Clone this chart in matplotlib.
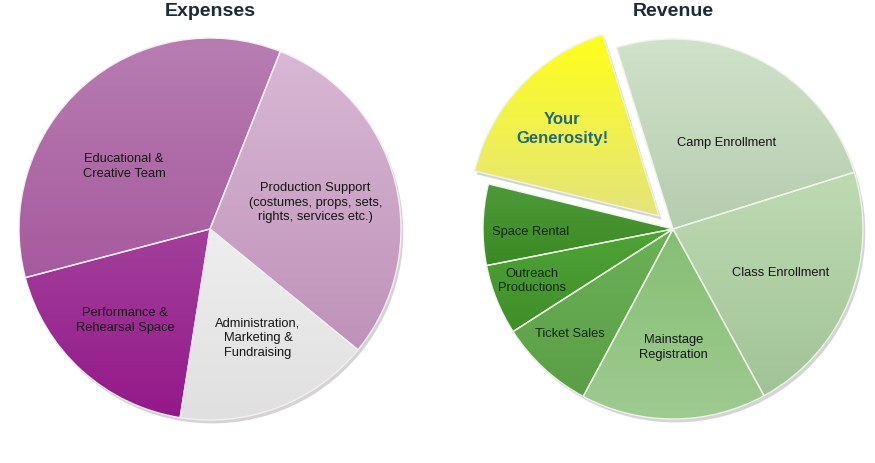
import numpy as np
import matplotlib
matplotlib.use('Agg')
import matplotlib.pyplot as plt
from matplotlib.patches import Wedge
from matplotlib.colors import to_rgb

plt.rcParams['font.family'] = ['Liberation Sans', 'DejaVu Sans']

W, H = 875, 464

# expenses (clockwise from the top-right slice)
exp_labels = ['Production Support\n(costumes, props, sets,\nrights, services etc.)',
              'Administration,\nMarketing &\nFundraising',
              'Performance &\nRehearsal Space',
              'Educational &\nCreative Team']
exp_values = [29.9, 16.6, 18.4, 35.1]
exp_top = ['#d8b8d4', '#eeeeee', '#a2409a', '#b77db1']
exp_bottom = ['#bf92b9', '#e0e0e0', '#94188a', '#a65a9e']

# revenue (clockwise from camp enrollment)
rev_labels = ['Camp Enrollment', 'Class Enrollment', 'Mainstage\nRegistration',
              'Ticket Sales', 'Outreach\nProductions', 'Space Rental',
              'Your\nGenerosity!']
rev_values = [25.0, 21.9, 15.8, 8.1, 6.0, 6.9, 16.4]
rev_explode = [0, 0, 0, 0, 0, 0, 0.1]
rev_top = ['#d0e2ca', '#bfdab3', '#86be74', '#6cb058', '#4fa436', '#4e9a3a', '#ffff1a']
rev_bottom = ['#b6ccae', '#a0c396', '#9ecb90', '#5a9f46', '#3f8e28', '#3a8a22', '#e4e47c']


def draw_pie(fig, cx, cy, r, values, labels, tops, bottoms, start, explode,
             label_r, label_da, title, text_styles, edge):
    ax = fig.add_axes([(cx - 1.15 * r) / W, (H - cy - 1.15 * r) / H,
                       2.3 * r / W, 2.3 * r / H])
    wedges, _ = ax.pie(values, startangle=start, counterclock=False,
                       explode=explode,
                       wedgeprops=dict(edgecolor=edge, linewidth=1.0))
    for i, w in enumerate(wedges):
        t = np.radians(np.linspace(w.theta1, w.theta2, 60))
        xs = np.concatenate([[w.center[0]], w.center[0] + w.r * np.cos(t)])
        ys = np.concatenate([[w.center[1]], w.center[1] + w.r * np.sin(t)])
        c0, c1 = np.array(to_rgb(tops[i])), np.array(to_rgb(bottoms[i]))
        f = np.linspace(0, 1, 100)[:, None]
        grad = (c0 * (1 - f) + c1 * f)[:, None, :]
        im = ax.imshow(grad, extent=[xs.min(), xs.max(), ys.min(), ys.max()],
                       origin='upper', aspect='auto', zorder=0.5)
        im.set_clip_path(w)
        w.set_facecolor('none')
        w.set_zorder(1)
        # soft shadow
        sh = Wedge((w.center[0] + 0.012, w.center[1] - 0.018), w.r,
                   w.theta1, w.theta2, facecolor='#b8b8b8', edgecolor='none',
                   alpha=0.6, zorder=0.2)
        ax.add_patch(sh)
        mid = np.radians((w.theta1 + w.theta2) / 2 + label_da[i])
        ax.text(w.center[0] + label_r[i] * np.cos(mid),
                w.center[1] + label_r[i] * np.sin(mid),
                labels[i], ha='center', va='center', linespacing=1.3,
                zorder=3, **text_styles[i])
    ax.set_xlim(-1.15, 1.15)
    ax.set_ylim(-1.15, 1.15)
    ax.set_aspect('equal')
    ax.axis('off')
    fig.text(cx / W, 1 - 12 / H, title, ha='center', va='center',
             fontsize=14, fontweight='bold', color='#1c2a3a')


fig = plt.figure(figsize=(W / 100, H / 100), dpi=100)
fig.patch.set_facecolor('white')

plain = dict(fontsize=9.3, color='#151515')
draw_pie(fig, 210, 230, 191, exp_values, exp_labels, exp_top, exp_bottom,
         68.4, None, [0.57, 0.62, 0.65, 0.56], [0, 3, -1, 12],
         'Expenses', [plain] * 4, '#f6eef5')

dark = dict(fontsize=9.3, color='#10260a')
gen = dict(fontsize=12, color='#1f6b7a', fontweight='bold')
draw_pie(fig, 673, 230, 190, rev_values, rev_labels, rev_top, rev_bottom,
         107.3, rev_explode, [0.54, 0.61, 0.62, 0.77, 0.79, 0.75, 0.69],
         [-4, 0, 0, -2, -2, 2, 1], 'Revenue',
         [plain, plain, plain, dark, dark, dark, gen], '#eef6e8')

fig.savefig('out.png', dpi=100)
